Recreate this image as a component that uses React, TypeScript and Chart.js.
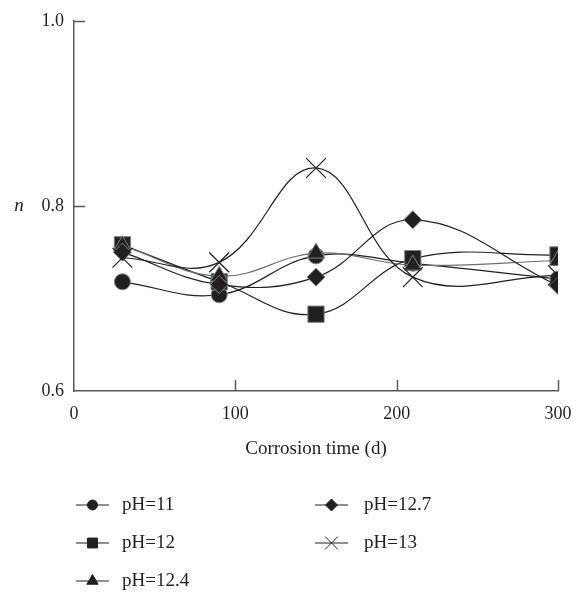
import React, { useEffect, useRef } from "react";
import { Chart, registerables } from "chart.js";
import { drawPoint } from "chart.js/helpers";

Chart.register(...registerables);

// ---- data ----
const days = [30, 90, 150, 210, 300];
const seriesLabels = ["pH=11", "pH=12", "pH=12.4", "pH=12.7", "pH=13"];
const pH11 = [0.718, 0.704, 0.746, 0.738, 0.721];
const pH12 = [0.758, 0.718, 0.683, 0.743, 0.747];
const pH124 = [0.757, 0.724, 0.749, 0.736, 0.741];
const pH127 = [0.75, 0.715, 0.723, 0.785, 0.714];
const pH13 = [0.744, 0.739, 0.841, 0.723, 0.725];
const xTickValues = [0, 100, 200, 300];
const yTickValues = [0.6, 0.8, 1.0];
const xTitle = "Corrosion time (d)";
const yTitle = "n";

const FONT = "'Liberation Serif', 'Times New Roman', serif";
const TEXT = "#231f20";
const AXIS = "#58595b";
const MARK = "#231f20";
const EDGE = "#808285";

const styles = [
  { pointStyle: "circle", radius: 8, line: MARK, legendR: 5 },
  { pointStyle: "rect", radius: 11.5, line: MARK, legendR: 7 },
  { pointStyle: "triangle", radius: 10, line: "#6d6e71", legendR: 6.5 },
  { pointStyle: "rectRot", radius: 9, line: MARK, legendR: 6 },
  { pointStyle: "crossRot", radius: 14, line: MARK, legendR: 9 },
];
const seriesValues = [pH11, pH12, pH124, pH127, pH13];

const insideTicks = {
  id: "insideTicks",
  afterDraw(chart: any) {
    const { ctx, chartArea, scales } = chart;
    const len = 11;
    ctx.save();
    ctx.strokeStyle = AXIS;
    ctx.lineWidth = 1.5;
    ctx.beginPath();
    xTickValues.forEach((v) => {
      if (v === scales.x.min) return;
      const px = Math.round(scales.x.getPixelForValue(v)) + 0.5;
      ctx.moveTo(px, chartArea.bottom);
      ctx.lineTo(px, chartArea.bottom - len);
    });
    yTickValues.forEach((v) => {
      if (v === scales.y.min) return;
      const py = Math.round(scales.y.getPixelForValue(v)) + 0.5;
      ctx.moveTo(chartArea.left, py);
      ctx.lineTo(chartArea.left + len, py);
    });
    ctx.stroke();
    // y axis title "n" (horizontal, italic)
    ctx.fillStyle = TEXT;
    ctx.font = `italic 19px ${FONT}`;
    ctx.textAlign = "center";
    ctx.textBaseline = "middle";
    ctx.fillText(yTitle, 19, (chartArea.top + chartArea.bottom) / 2);
    ctx.restore();
  },
};

const columnLegend = {
  id: "columnLegend",
  afterDraw(chart: any) {
    const { ctx } = chart;
    const colLine = [76, 315];
    const colText = [122, 364];
    const rowY = [505, 543, 581];
    const lineLen = 33;
    ctx.save();
    chart.data.datasets.forEach((ds: any, i: number) => {
      const col = i < 3 ? 0 : 1;
      const row = i < 3 ? i : i - 3;
      const y = rowY[row];
      const x0 = colLine[col];
      ctx.strokeStyle = MARK;
      ctx.lineWidth = 1.2;
      ctx.beginPath();
      ctx.moveTo(x0, y);
      ctx.lineTo(x0 + lineLen, y);
      ctx.stroke();
      ctx.fillStyle = MARK;
      ctx.strokeStyle = MARK;
      ctx.lineWidth = 1;
      drawPoint(
        ctx,
        { pointStyle: ds.pointStyle, radius: styles[i].legendR, rotation: 0, borderWidth: 1 },
        x0 + lineLen / 2,
        y
      );
      ctx.fillStyle = TEXT;
      ctx.font = `19px ${FONT}`;
      ctx.textAlign = "left";
      ctx.textBaseline = "middle";
      ctx.fillText(ds.label, colText[col], y);
    });
    ctx.restore();
  },
};

export default function App() {
  const ref = useRef<HTMLCanvasElement>(null);

  useEffect(() => {
    document.body.style.margin = "0";
    const canvas = ref.current;
    if (!canvas) return;
    const datasets = seriesValues.map((vals, i) => ({
      label: seriesLabels[i],
      data: days.map((d, j) => ({ x: d, y: vals[j] })),
      borderColor: styles[i].line,
      borderWidth: 1.2,
      tension: 0.4,
      fill: false,
      pointStyle: styles[i].pointStyle,
      pointRadius: styles[i].radius,
      pointHoverRadius: styles[i].radius,
      pointBackgroundColor: MARK,
      pointBorderColor: styles[i].pointStyle === "crossRot" ? MARK : EDGE,
      pointBorderWidth: styles[i].pointStyle === "crossRot" ? 1.2 : 1,
      order: seriesValues.length - 1 - i,
    }));
    const chart = new Chart(canvas, {
      type: "line",
      data: { datasets },
      options: {
        animation: false,
        responsive: false,
        layout: { padding: { top: 16, right: 26, bottom: 137, left: 0 } },
        plugins: {
          legend: { display: false },
          tooltip: { enabled: false },
        },
        scales: {
          x: {
            type: "linear",
            min: 0,
            max: 300,
            afterBuildTicks: (s: any) => {
              s.ticks = xTickValues.map((v) => ({ value: v }));
            },
            ticks: {
              font: { family: FONT, size: 18 },
              color: TEXT,
              padding: 12,
              maxRotation: 0,
            },
            grid: { display: false, drawTicks: false },
            border: { display: true, color: AXIS, width: 1.5 },
            title: {
              display: true,
              text: xTitle,
              font: { family: FONT, size: 19 },
              color: TEXT,
              padding: { top: 0, bottom: 0 },
            },
            afterFit: (s: any) => {
              s.height = 69;
            },
          },
          y: {
            type: "linear",
            min: 0.6,
            max: 1.0,
            afterBuildTicks: (s: any) => {
              s.ticks = yTickValues.map((v) => ({ value: v }));
            },
            ticks: {
              font: { family: FONT, size: 18 },
              color: TEXT,
              padding: 10,
              callback: (v: any) => Number(v).toFixed(1),
            },
            grid: { display: false, drawTicks: false },
            border: { display: true, color: AXIS, width: 1.5 },
            afterFit: (s: any) => {
              s.width = 74;
            },
          },
        },
      },
      plugins: [insideTicks, columnLegend],
    });
    return () => chart.destroy();
  }, []);

  return (
    <div style={{ width: 584, height: 597 }}>
      <canvas ref={ref} width={584} height={597} style={{ display: "block" }} />
    </div>
  );
}
